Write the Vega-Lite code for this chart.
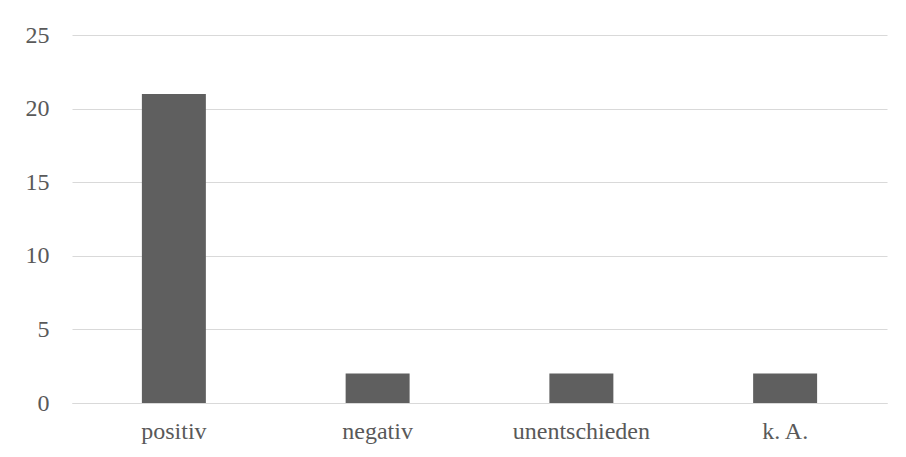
{
  "$schema": "https://vega.github.io/schema/vega-lite/v6.json",
  "autosize": "none",
  "width": 815,
  "height": 368,
  "padding": {"left": 72, "top": 35, "right": 19, "bottom": 54},
  "background": "white",
  "data": {"values": [
    {"Kategorie": "positiv", "Anzahl": 21},
    {"Kategorie": "negativ", "Anzahl": 2},
    {"Kategorie": "unentschieden", "Anzahl": 2},
    {"Kategorie": "k. A.", "Anzahl": 2}
  ]},
  "mark": {"type": "bar", "color": "#5f5f5f"},
  "encoding": {
    "x": {"field": "Kategorie", "type": "nominal", "sort": null,
      "scale": {"paddingInner": 0.686, "paddingOuter": 0.343},
      "axis": {"title": null, "labelAngle": 0, "ticks": false, "domain": true, "domainColor": "#d9d9d9", "labelPadding": 16}},
    "y": {"field": "Anzahl", "type": "quantitative",
      "scale": {"domain": [0, 25]},
      "axis": {"title": null, "values": [0, 5, 10, 15, 20, 25], "ticks": false, "domain": false, "labelPadding": 23, "gridColor": "#d9d9d9"}}
  },
  "config": {
    "view": {"stroke": null},
    "axis": {"labelFont": "Liberation Serif", "labelFontSize": 24, "labelColor": "#595959", "gridWidth": 1}
  }
}
